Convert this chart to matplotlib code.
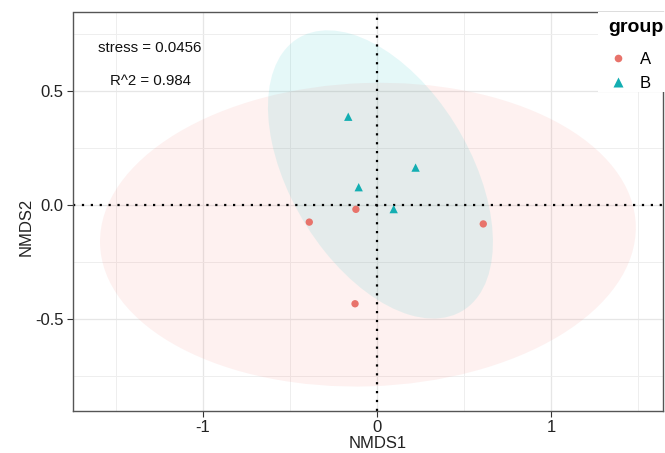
import matplotlib
matplotlib.use('Agg')
import matplotlib.pyplot as plt
from matplotlib.patches import Ellipse, Rectangle
from matplotlib.lines import Line2D
import numpy as np

plt.rcParams['font.family'] = ['Liberation Sans', 'DejaVu Sans']

# NMDS site scores
a_x = [-0.121, -0.389, 0.611, -0.126]
a_y = [-0.019, -0.075, -0.083, -0.433]
b_x = [-0.165, 0.222, -0.105, 0.096]
b_y = [0.387, 0.164, 0.078, -0.018]

# 95% group ellipses: centre, width, height, angle
ell_a = [(-0.052, -0.130), 3.08, 1.33, 1.4]
ell_b = [(0.020, 0.134), 1.55, 0.931, -43.6]

stress = 0.0456
r2 = 0.984

col_a = '#E8736B'
col_b = '#13AEB2'

W, H = 665, 453
fig = plt.figure(figsize=(W / 100, H / 100), dpi=100)
ax = fig.add_axes([73 / W, 1 - 410.5 / H, 590 / W, 398 / H])

for (c, w, h, ang), col in [(ell_a, '#F8766D'), (ell_b, '#00BFC4')]:
    ax.add_patch(Ellipse(c, w, h, angle=ang, facecolor=col, alpha=0.1,
                         edgecolor='none', zorder=1))

ax.axhline(0, color='black', lw=1.6, ls=(0, (1, 3)), zorder=2)
ax.axvline(0, color='black', lw=1.6, ls=(0, (1, 3)), zorder=2)

ax.scatter(a_x, a_y, s=28, marker='o', color=col_a, edgecolors='none', zorder=3)
ax.scatter(b_x, b_y, s=36, marker='^', color=col_b, edgecolors='none', zorder=3)

ax.set_xlim(-1.747, 1.644)
ax.set_ylim(-0.901, 0.844)
ax.set_xticks([-1, 0, 1])
ax.set_xticklabels(['-1', '0', '1'])
ax.set_yticks([-0.5, 0, 0.5])
ax.set_yticklabels(['-0.5', '0.0', '0.5'])
ax.set_xticks([-1.5, -0.5, 0.5, 1.5], minor=True)
ax.set_yticks([-0.75, -0.25, 0.25, 0.75], minor=True)
ax.grid(True, which='major', color='#E6E6E6', lw=0.9)
ax.grid(True, which='minor', color='#EEEEEE', lw=0.7)
ax.set_axisbelow(True)
ax.tick_params(which='major', length=4, width=0.8, color='#333333',
               labelsize=12, labelcolor='#222222', pad=3)
ax.tick_params(which='minor', length=0)
for s in ax.spines.values():
    s.set_color('#555555')
    s.set_linewidth(1.0)

ax.set_xlabel('NMDS1', fontsize=12, color='#222222')
ax.set_ylabel('NMDS2', fontsize=12, color='#222222')
ax.xaxis.set_label_coords(0.517, -0.064)
ax.yaxis.set_label_coords(-0.066, 0.462)

fig.text(150 / W, 1 - 48 / H, 'stress = {}'.format(stress), fontsize=10.8,
         ha='center', va='center', color='#111111')
fig.text(150 / W, 1 - 81 / H, 'R^2 = {}'.format(r2), fontsize=10.8,
         ha='center', va='center', color='#111111')

# legend box sits over the top-right corner of the panel
fig.add_artist(Rectangle((598 / W, 1 - 92 / H), 67 / W, 80 / H,
                         transform=fig.transFigure, facecolor='white',
                         edgecolor='none', zorder=5))
fig.text(608 / W, 1 - 27 / H, 'group', fontsize=14, fontweight='bold',
         ha='left', va='center', zorder=6)
handles = [Line2D([], [], ls='none', marker='o', ms=5.5, color=col_a, mec='none'),
           Line2D([], [], ls='none', marker='^', ms=6.5, color=col_b, mec='none')]
leg = fig.legend(handles, ['A', 'B'], loc='upper left',
                 bbox_to_anchor=(610 / W, 1 - 52 / H), frameon=False,
                 fontsize=12, handlelength=1.0, handletextpad=0.8,
                 labelspacing=0.55, borderpad=0, borderaxespad=0)
leg.set_zorder(7)

fig.savefig('out.png', dpi=100)
